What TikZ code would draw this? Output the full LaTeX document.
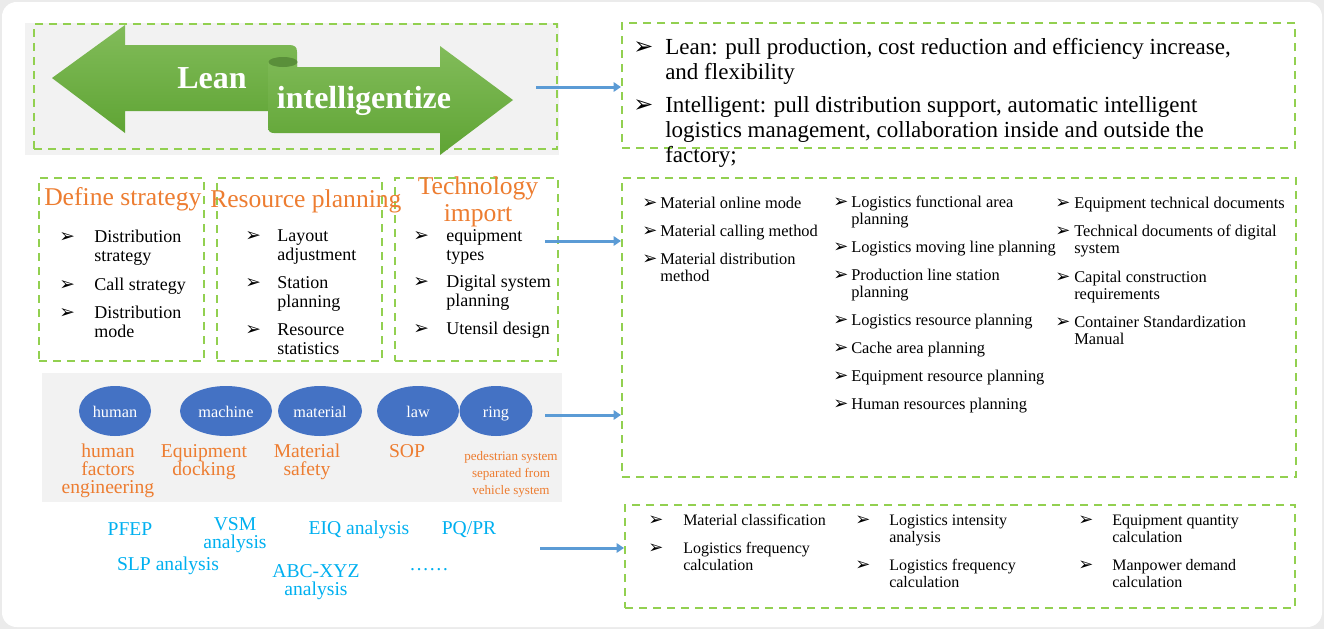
\documentclass[tikz,border=0pt]{standalone}
\usepackage{fontspec}
\setmainfont{Liberation Serif}
\newfontfamily\bulletfont{DejaVu Sans}
\usetikzlibrary{arrows.meta,fit,shapes.geometric}
\definecolor{dgreen}{HTML}{92D050}
\definecolor{panelgray}{HTML}{F2F2F2}
\definecolor{outergray}{HTML}{EBEBEB}
\definecolor{oran}{HTML}{ED7D31}
\definecolor{lblue}{HTML}{00B0F0}
\definecolor{ellblue}{HTML}{4472C4}
\definecolor{arrblue}{HTML}{5B9BD5}
\definecolor{agreenT}{HTML}{82BC5A}
\definecolor{agreenB}{HTML}{5FA434}
\definecolor{agreenD}{HTML}{5A8F3A}
\newcommand\ltab[1]{\begin{tabular}[t]{@{}l@{}}#1\end{tabular}}
\newcommand\ctab[1]{\begin{tabular}[t]{@{}c@{}}#1\end{tabular}}
\newcommand\bitem[5]{\node[bul] (#1b) at (#2,#4) {➢}; \node[itm] (#1) at (#3,#4) {\ltab{#5}};}
\begin{document}
\begin{tikzpicture}[x=0.75pt,y=-0.75pt,
  dbox/.style={draw=dgreen,line width=1.5pt,dash pattern=on 6pt off 4.5pt,inner sep=0pt},
  panel/.style={fill=panelgray,inner sep=0pt},
  barrow/.style={draw=arrblue,line width=2.25pt,-{Triangle[length=5.5pt,width=7pt]}},
  greenarrow/.style={top color=agreenT,bottom color=agreenB,draw=none},
  bigword/.style={anchor=base,inner sep=0pt,text=white,font=\fontsize{24}{28}\selectfont\bfseries},
  title/.style={anchor=base west,inner sep=0pt,text=oran,font=\fontsize{19.2}{20.25}\selectfont},
  ell/.style={ellipse,fill=ellblue,inner sep=0pt,text=white,text height=9.5pt,text depth=0.5pt,font=\fontsize{12.2}{14}\selectfont},
  olab/.style={anchor=base,inner sep=0pt,text=oran,font=\fontsize{14.7}{12.75}\selectfont},
  blab/.style={anchor=base,inner sep=0pt,text=lblue,font=\fontsize{14.7}{13.1}\selectfont},
  itm/.style={anchor=base west,inner sep=0pt},
  bul/.style={anchor=base west,inner sep=0pt}
]
\useasboundingbox (0,0) rectangle (1324,629);
% background
\fill[outergray] (0,0) rectangle (1324,629);
\fill[white,rounded corners=11pt] (2,2) rectangle (1322,627);

% gray panels
\node[panel,fit={(25,23) (559,155)}] (tlpanel) {};
\node[panel,fit={(42,373) (562,502)}] (elpanel) {};

% dashed boxes
\node[dbox,fit={(34,24) (557,149)}] (tlbox) {};
\node[dbox,fit={(622,23) (1295,148)}] (trbox) {};
\node[dbox,fit={(39,178) (204,361)}] (box1) {};
\node[dbox,fit={(217,178) (382,361)}] (box2) {};
\node[dbox,fit={(395,178) (558,361)}] (box3) {};
\node[dbox,fit={(622,178) (1296,477)}] (mrbox) {};
\node[dbox,fit={(625,505) (1295,608)}] (brbox) {};

% green double arrow
\path[greenarrow] (52,78) -- (125,25) -- (125,45) -- (289,45)
  .. controls (295,45) and (297,47) .. (297,52) -- (297,67) -- (268,67)
  -- (268,111) -- (125,111) -- (125,133) -- cycle;
\path[greenarrow] (268,62) -- (268,127) .. controls (268,131) and (270,133) .. (274,133)
  -- (440,133) -- (440,155) -- (513,100) -- (440,46) -- (440,67) -- (297,67) -- (297,62) -- cycle;
\fill[agreenD] (283,62) ellipse [x radius=14.5, y radius=5];
\node[bigword] (lean) at (212,88) {Lean};
\node[bigword] (intel) at (364,108) {intelligentize};

% top-right text
\begin{scope}[itm/.append style={font=\fontsize{17.25}{18.75}\selectfont},
              bul/.append style={font=\bulletfont\fontsize{18}{20}\selectfont}]
\bitem{t1}{633}{665}{54}{Lean: pull production, cost reduction and efficiency increase,\\and flexibility}
\bitem{t2}{633}{665}{112}{Intelligent: pull distribution support, automatic intelligent\\logistics management, collaboration inside and outside the\\factory;}
\end{scope}

% titles
\node[title] (ttl1) at (44,205) {Define strategy};
\node[title] (ttl2) at (210,207) {Resource planning};
\node[title,anchor=base] (ttl3) at (478,194) {\ctab{Technology\\import}};

% small boxes items
\begin{scope}[itm/.append style={font=\fontsize{13.5}{14.25}\selectfont},
              bul/.append style={font=\bulletfont\fontsize{14}{16}\selectfont}]
\bitem{d1}{59}{94}{242}{Distribution\\strategy}
\bitem{d2}{59}{94}{290}{Call strategy}
\bitem{d3}{59}{94}{318}{Distribution\\mode}
\bitem{r1}{245}{277}{241}{Layout\\adjustment}
\bitem{r2}{245}{277}{288}{Station\\planning}
\bitem{r3}{245}{277}{335}{Resource\\statistics}
\bitem{g1}{413}{446}{241}{equipment\\types}
\bitem{g2}{413}{446}{287}{Digital system\\planning}
\bitem{g3}{413}{446}{334}{Utensil design}
\end{scope}

% middle-right items
\begin{scope}[itm/.append style={font=\fontsize{12.3}{12.75}\selectfont},
              bul/.append style={font=\bulletfont\fontsize{13.5}{14}\selectfont}]
\bitem{c1}{642}{660}{208}{Material online mode}
\bitem{c2}{642}{660}{236}{Material calling method}
\bitem{c3}{642}{660}{264}{Material distribution\\method}
\bitem{e1}{833}{851}{207}{Logistics functional area\\planning}
\bitem{e2}{833}{851}{252}{Logistics moving line planning}
\bitem{e3}{833}{851}{280}{Production line station\\planning}
\bitem{e4}{833}{851}{325}{Logistics resource planning}
\bitem{e5}{833}{851}{353}{Cache area planning}
\bitem{e6}{833}{851}{381}{Equipment resource planning}
\bitem{e7}{833}{851}{409}{Human resources planning}
\bitem{f1}{1055}{1074}{208}{Equipment technical documents}
\bitem{f2}{1055}{1074}{236}{Technical documents of digital\\system}
\bitem{f3}{1055}{1074}{282}{Capital construction\\requirements}
\bitem{f4}{1055}{1074}{327}{Container Standardization\\Manual}
\end{scope}

% ellipses
\node[ell,minimum width=72*0.75pt,minimum height=50*0.75pt] (human) at (115,411) {human};
\node[ell,minimum width=92*0.75pt,minimum height=50*0.75pt] (machine) at (226,411) {machine};
\node[ell,minimum width=84*0.75pt,minimum height=50*0.75pt] (material) at (320,411) {material};
\node[ell,minimum width=82*0.75pt,minimum height=50*0.75pt] (law) at (418,411) {law};
\node[ell,minimum width=73*0.75pt,minimum height=50*0.75pt] (ring) at (496,411) {ring};

% orange labels
\node[olab] (o1) at (108,457) {\ctab{human\\factors\\engineering}};
\node[olab] (o2) at (204,457) {\ctab{Equipment\\docking}};
\node[olab] (o3) at (307,457) {\ctab{Material\\safety}};
\node[olab] (o4) at (407,457) {SOP};
\node[olab,font=\fontsize{9.8}{13.1}\selectfont] (o5) at (511,460) {\ctab{pedestrian system\\separated from\\vehicle system}};

% blue labels
\node[blab] (p1) at (130,535) {PFEP};
\node[blab] (p2) at (235,530) {\ctab{VSM\\analysis}};
\node[blab] (p3) at (359,534) {EIQ analysis};
\node[blab] (p4) at (469,534) {PQ/PR};
\node[blab] (p5) at (168,570) {SLP analysis};
\node[blab] (p6) at (316,577) {\ctab{ABC-XYZ\\analysis}};
\node[blab] (p7) at (429,570) {……};

% bottom-right items
\begin{scope}[itm/.append style={font=\fontsize{12}{12.75}\selectfont},
              bul/.append style={font=\bulletfont\fontsize{13.5}{14}\selectfont}]
\bitem{h1}{648}{683}{525}{Material classification}
\bitem{h2}{648}{683}{553}{Logistics frequency\\calculation}
\bitem{k1}{855}{889}{525}{Logistics intensity\\analysis}
\bitem{k2}{855}{889}{570}{Logistics frequency\\calculation}
\bitem{m1}{1078}{1112}{525}{Equipment quantity\\calculation}
\bitem{m2}{1078}{1112}{570}{Manpower demand\\calculation}
\end{scope}

% blue connectors
\coordinate (s1) at (536,87);
\coordinate (s2) at (545,241);
\coordinate (s3) at (545,415);
\coordinate (s4) at (540,548);
\draw[barrow] (s1) -- (s1 -| trbox.west);
\draw[barrow] (s2) -- (s2 -| mrbox.west);
\draw[barrow] (s3) -- (s3 -| mrbox.west);
\draw[barrow] (s4) -- (s4 -| brbox.west);
\end{tikzpicture}
\end{document}
